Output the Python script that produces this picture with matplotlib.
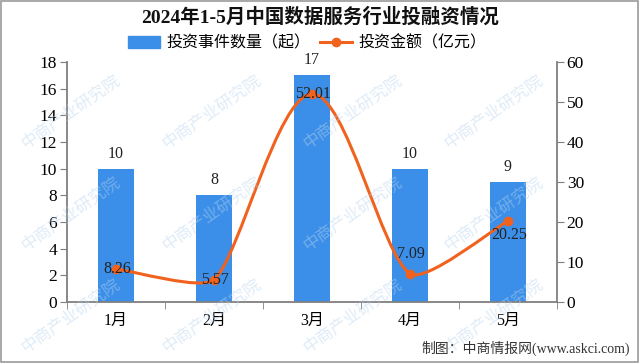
import matplotlib
matplotlib.use("Agg")
import matplotlib.pyplot as plt
import numpy as np
from matplotlib.path import Path
from matplotlib.patches import PathPatch, Rectangle
from matplotlib.lines import Line2D

plt.rcParams['font.family'] = ['Liberation Serif', 'Noto Sans CJK SC']

months = ['1月', '2月', '3月', '4月', '5月']
events = [10, 8, 17, 10, 9]
amount = [8.26, 5.57, 52.01, 7.09, 20.25]
# vertical offset of the line labels, in points
amount_label_dy = [0, 0, 0, 14, -10]

bar_color = '#3C8FE8'
line_color = '#F0621E'
axis_color = '#7F7F7F'

fig = plt.figure(figsize=(6.4, 3.63), dpi=100)
ax = fig.add_axes([0.1047, 0.168, 0.7656, 0.661])
ax2 = ax.twinx()

x = np.arange(len(months))
ax.bar(x, events, width=0.36, color=bar_color, zorder=2)
for xi, v in zip(x, events):
    ax.annotate(str(v), (xi, v), xytext=(0, 5), textcoords='offset points',
                ha='center', va='bottom', fontsize=11.5, color='#222222')

ax.set_xlim(-0.5, len(months) - 0.5)
ax.set_ylim(0, 18)
ax.set_yticks(range(0, 19, 2))
ax2.set_ylim(0, 60)
ax2.set_yticks(range(0, 61, 10))

# smooth line: bezier through the points, worked out in screen space
pts = ax2.transData.transform(np.column_stack([x, amount]))
n = len(pts)
tangents = []
for i in range(n):
    t = pts[min(i + 1, n - 1)] - pts[max(i - 1, 0)]
    tangents.append(t / np.hypot(*t))
verts = [pts[0]]
codes = [Path.MOVETO]
for i in range(n - 1):
    d = np.hypot(*(pts[i + 1] - pts[i])) / 6
    verts += [pts[i] + tangents[i] * d, pts[i + 1] - tangents[i + 1] * d, pts[i + 1]]
    codes += [Path.CURVE4] * 3
verts = ax2.transData.inverted().transform(np.array(verts))
ax2.add_patch(PathPatch(Path(verts, codes), facecolor='none',
                        edgecolor=line_color, lw=2.2, zorder=3))
ax2.plot(x, amount, 'o', color=line_color, ms=6, zorder=4)
for xi, v, dy in zip(x, amount, amount_label_dy):
    ax2.annotate(f'{v:.2f}', (xi, v), xytext=(1, dy), textcoords='offset points',
                 ha='center', va='center', fontsize=11.5, color='#222222', zorder=5)

ax.set_xticks(x)
ax.set_xticklabels(months)
ax.set_xticks(np.arange(-0.5, len(months), 1), minor=True)
ax.tick_params(axis='x', which='major', length=0, pad=8, labelsize=11.5)
ax.tick_params(axis='x', which='minor', length=5, color=axis_color, direction='out')
ax.tick_params(axis='y', length=5, color=axis_color, labelsize=12.5, pad=2)
ax2.tick_params(axis='y', length=5, color=axis_color, labelsize=12.5, pad=2)

for a in (ax, ax2):
    a.spines['top'].set_visible(False)
    for s in ('left', 'right', 'bottom'):
        a.spines[s].set_color(axis_color)
        a.spines[s].set_linewidth(1.3)
ax.spines['right'].set_visible(False)
ax2.spines['left'].set_visible(False)
ax2.spines['bottom'].set_visible(False)

fig.text(0.5, 0.952, '2024年1-5月中国数据服务行业投融资情况', ha='center', va='center',
         fontsize=14, fontweight='bold', color='#111111')

handles = [Rectangle((0, 0), 1, 1, color=bar_color),
           Line2D([], [], color=line_color, lw=2.2, marker='o', ms=6)]
fig.legend(handles, ['投资事件数量（起）', '投资金额（亿元）'], loc='center',
           bbox_to_anchor=(0.48, 0.88), ncol=2, frameon=False, fontsize=11.5,
           handlelength=2.0, columnspacing=0.6, handletextpad=0.4)

fig.text(0.985, 0.04, '制图：中商情报网(www.askci.com)', ha='right', va='center',
         fontsize=10, color='#333333')

# faint watermark
for wx in np.arange(0.03, 0.9, 0.22):
    for wy in np.arange(0.02, 0.8, 0.28):
        fig.text(wx, wy, '中商产业研究院', rotation=35, fontsize=12, color='#B8D4EE',
                 alpha=0.45, ha='left', va='bottom', zorder=0)

fig.patches.append(Rectangle((0.002, 0.003), 0.995, 0.994, transform=fig.transFigure,
                             fill=False, edgecolor='#9A9A9A', lw=1.2))

fig.savefig('out.png', dpi=100)
